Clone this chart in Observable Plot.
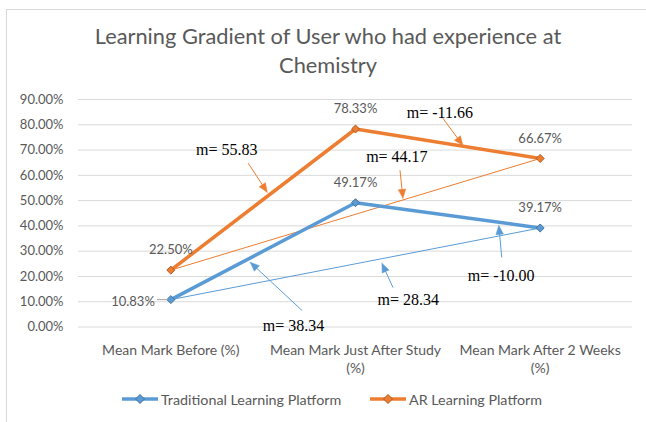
<!DOCTYPE html>
<html><head><meta charset="utf-8">
<script src="https://cdn.jsdelivr.net/npm/d3@7"></script>
<script src="https://cdn.jsdelivr.net/npm/@observablehq/plot@0.6"></script>
<style>
body{margin:0;background:#fff;}
#wrap{position:relative;width:646px;height:422px;overflow:hidden;background:#fff;font-family:Lato,sans-serif;}
#frame{position:absolute;left:6px;top:9px;width:700px;height:500px;border-left:1px solid #d9d9d9;border-top:1px solid #d9d9d9;}
#title{position:absolute;left:0;width:656px;top:21px;text-align:center;color:#595959;font-size:21.8px;line-height:29px;}
#chart{position:absolute;left:0;top:80px;}
.leg{position:absolute;top:390px;height:18px;display:flex;align-items:center;color:#595959;font-size:14.3px;}
.leg svg{margin-right:3px;}
</style></head>
<body><div id="wrap"><div id="frame"></div>
<div id="title">Learning Gradient of User who had experience at<br>Chemistry</div>
<div id="chart"></div>
<div id="legend"></div>
</div>
<script>
const categories = ["Mean Mark Before (%)", "Mean Mark Just After Study\n(%)", "Mean Mark After 2 Weeks\n(%)"];
const seriesNames = ["Traditional Learning Platform", "AR Learning Platform"];
const traditional = [10.83, 49.17, 39.17];
const arLearning = [22.50, 78.33, 66.67];
const yTicks = [0, 10, 20, 30, 40, 50, 60, 70, 80, 90];

const slopeText = ["m= 55.83", "m= 44.17", "m= -11.66", "m= 38.34", "m= 28.34", "m= -10.00"];
const slopeSeries = [1, 1, 1, 0, 0, 0];
const slopeTextX = [0.303, 1.224, 1.457, 0.664, 1.286, 1.789];
const slopeTextY = [70.0, 67.3, 84.6, 0.6, 10.8, 20.4];
const arrowFromX = [0.419, 1.241, 1.473, 0.711, 1.203, 1.792];
const arrowFromY = [64.8, 62.0, 82.6, 6.5, 15.6, 27.5];
const arrowToX = [0.522, 1.257, 1.581, 0.430, 1.143, 1.776];
const arrowToY = [53.3, 50.9, 71.9, 25.6, 25.2, 40.2];

const colors = ["#5b9bd5", "#ed7d31"];
const markerStroke = ["#41719c", "#ae5a21"];

const W = 646, H = 300, mL = 78, mR = 14, mT = 19, mB = 53.5;
const xOpt = {domain: [-0.5, 2.5], range: [mL, W - mR]};
const yOpt = {domain: [0, 90], range: [H - mB, mT]};
const xs = Plot.scale({x: xOpt});
const ys = Plot.scale({y: yOpt});

const series = [traditional, arLearning];
const points = [];
series.forEach((vals, s) => vals.forEach((v, i) => points.push({s, i, v})));
const trends = series.map((vals, s) => ({s, x1: 0, y1: vals[0], x2: vals.length - 1, y2: vals[vals.length - 1]}));

const notes = slopeText.map((t, k) => ({t, s: slopeSeries[k], x: slopeTextX[k], y: slopeTextY[k],
  x1: arrowFromX[k], y1: arrowFromY[k], x2: arrowToX[k], y2: arrowToY[k]}));

// arrow shafts and filled heads computed in pixel space through the scales
const shafts = [], heads = [];
notes.forEach((n, k) => {
  const tx = xs.apply(n.x1), ty = ys.apply(n.y1), hx = xs.apply(n.x2), hy = ys.apply(n.y2);
  const len = Math.hypot(hx - tx, hy - ty), ux = (hx - tx) / len, uy = (hy - ty) / len;
  const L = 9, Wd = 7.5, nx = -uy, ny = ux;
  const bx = hx - ux * L, by = hy - uy * L;
  shafts.push({s: n.s, x1: n.x1, y1: n.y1, x2: xs.invert(hx - ux * 5), y2: ys.invert(hy - uy * 5)});
  [[hx, hy], [bx + nx * Wd / 2, by + ny * Wd / 2], [bx - nx * Wd / 2, by - ny * Wd / 2], [hx, hy]].forEach(([px, py]) =>
    heads.push({k, s: n.s, x: xs.invert(px), y: ys.invert(py)}));
});

const fmt = v => v.toFixed(2) + "%";
const labelsAbove = points.filter(p => !(p.s === 0 && p.i === 0));
const labelsLeft = points.filter(p => p.s === 0 && p.i === 0);

const chart = Plot.plot({
  width: W, height: H, marginLeft: mL, marginRight: mR, marginTop: mT, marginBottom: mB,
  style: {fontFamily: "Lato, sans-serif", fontSize: "13px", color: "#595959", background: "transparent"},
  x: {...xOpt, axis: null},
  y: {...yOpt, axis: null},
  marks: [
    Plot.gridY(yTicks, {stroke: "#d9d9d9", strokeOpacity: 1, strokeWidth: 1}),
    Plot.axisY(yTicks, {tickSize: 0, tickPadding: 15, tickFormat: fmt, fill: "#595959", fontSize: 13}),
    Plot.text(categories, {x: (d, i) => i, frameAnchor: "bottom", lineAnchor: "top", dy: 15, fontSize: 14, lineHeight: 1.3, fill: "#595959"}),
    Plot.link(trends, {x1: "x1", y1: "y1", x2: "x2", y2: "y2", stroke: d => colors[d.s], strokeWidth: 1}),
    Plot.line(points, {x: "i", y: "v", z: "s", stroke: d => colors[d.s], strokeWidth: 3.5}),
    Plot.dot(points, {x: "i", y: "v", symbol: "diamond2", r: 3.6, fill: d => colors[d.s], stroke: d => markerStroke[d.s], strokeWidth: 1}),
    Plot.text(labelsAbove, {x: "i", y: "v", text: d => fmt(d.v), dy: -20, fontSize: 13, fill: "#595959"}),
    Plot.link(labelsLeft, {x1: d => d.i - 0.075, x2: d => d.i - 0.015, y1: "v", y2: "v", stroke: "#a6a6a6", strokeWidth: 1}),
    Plot.text(labelsLeft, {x: "i", y: "v", text: d => fmt(d.v), dx: -16, dy: 2, textAnchor: "end", fontSize: 13, fill: "#595959"}),
    Plot.link(shafts, {x1: "x1", y1: "y1", x2: "x2", y2: "y2", stroke: d => colors[d.s], strokeWidth: 1}),
    Plot.line(heads, {x: "x", y: "y", z: "k", fill: d => colors[d.s], stroke: d => colors[d.s], strokeWidth: 0.5, curve: "linear-closed"}),
    Plot.text(notes, {x: "x", y: "y", text: "t", fontFamily: "'Liberation Serif', serif", fontSize: 16, fill: "#000"})
  ]
});
document.getElementById("chart").appendChild(chart);

// legend
const legend = document.getElementById("legend");
const legLeft = [122, 370];
seriesNames.forEach((name, s) => {
  const d = document.createElement("div");
  d.className = "leg";
  d.style.left = legLeft[s] + "px";
  d.innerHTML = `<svg width="36" height="12"><line x1="0" y1="6" x2="36" y2="6" stroke="${colors[s]}" stroke-width="3.5"/>` +
    `<path d="M18,1.5L22.5,6L18,10.5L13.5,6Z" fill="${colors[s]}" stroke="${markerStroke[s]}" stroke-width="1"/></svg>` +
    `<span>${name}</span>`;
  legend.appendChild(d);
});
</script></body></html>
